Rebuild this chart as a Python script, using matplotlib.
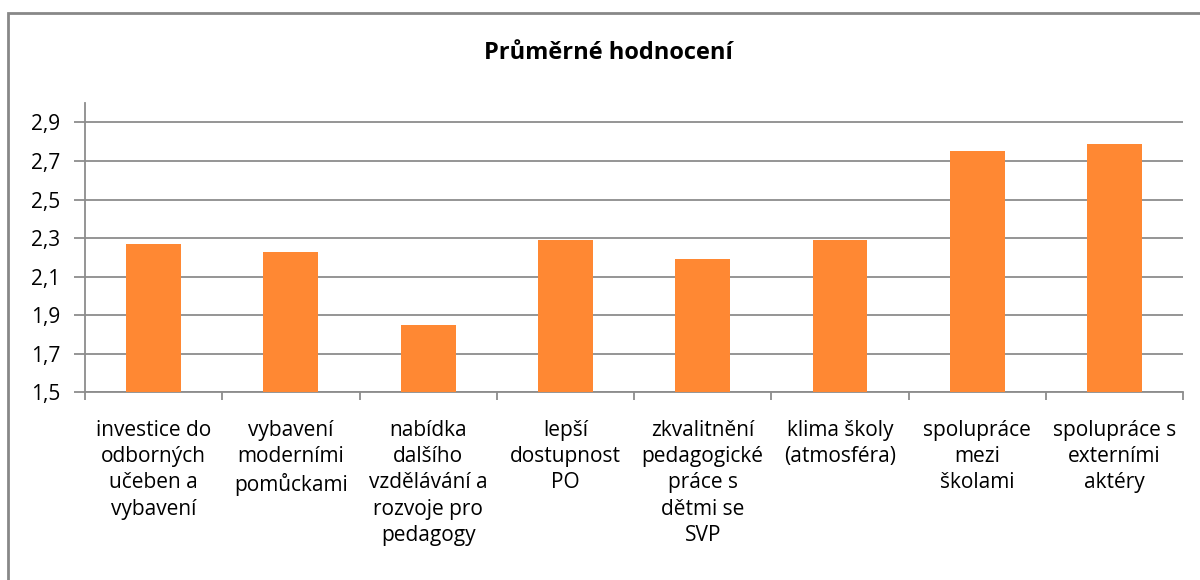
import matplotlib.pyplot as plt
import numpy as np
from matplotlib.patches import Rectangle

plt.rcParams['font.family'] = ['Open Sans', 'DejaVu Sans']

categories = [
    "investice do\nodborných\nučeben a\nvybavení",
    "vybavení\nmoderními\npomůckami",
    "nabídka\ndalšího\nvzdělávání a\nrozvoje pro\npedagogy",
    "lepší\ndostupnost\nPO",
    "zkvalitnění\npedagogické\npráce s\ndětmi se\nSVP",
    "klima školy\n(atmosféra)",
    "spolupráce\nmezi\nškolami",
    "spolupráce s\nexterními\naktéry",
]
values = [2.27, 2.23, 1.85, 2.29, 2.19, 2.29, 2.75, 2.79]
yticks = [1.5, 1.7, 1.9, 2.1, 2.3, 2.5, 2.7, 2.9]
ytick_labels = ["1,5", "1,7", "1,9", "2,1", "2,3", "2,5", "2,7", "2,9"]

fig = plt.figure(figsize=(12, 5.8), dpi=100)
ax = fig.add_axes([0.0708, 0.324, 0.9152, 0.498])

x = np.arange(len(values))
ax.bar(x, values, width=0.4, color="#FF8833", zorder=3)

ax.set_xlim(-0.5, len(values) - 0.5)
ax.set_ylim(1.5, 3.0)
ax.set_yticks(yticks)
ax.set_yticklabels(ytick_labels, fontsize=15)
ax.yaxis.grid(True, color="#8c8c8c", linewidth=1.3, zorder=0)

# category labels between boundary ticks
ax.set_xticks(x)
ax.set_xticklabels(categories, fontsize=15, linespacing=1.33, va="top")
ax.tick_params(axis="x", length=0, pad=20)
ax.set_xticks(np.arange(-0.5, len(values)), minor=True)
ax.tick_params(axis="x", which="minor", length=6, width=1.3, color="#8c8c8c")
ax.tick_params(axis="y", length=8, width=1.3, color="#8c8c8c", pad=10)

for s in ["top", "right"]:
    ax.spines[s].set_visible(False)
for s in ["left", "bottom"]:
    ax.spines[s].set_color("#8c8c8c")
    ax.spines[s].set_linewidth(1.3)

fig.text(0.507, 0.908, "Průměrné hodnocení", ha="center", va="center",
         fontsize=17, fontweight="bold")

# chart area border (top and left visible)
fig.patches.append(Rectangle((8 / 1200, -0.1), 1.2, 1 - 13 / 580 + 0.1,
                             transform=fig.transFigure, fill=False,
                             edgecolor="#888888", linewidth=2))

fig.savefig("out.png", dpi=100)
